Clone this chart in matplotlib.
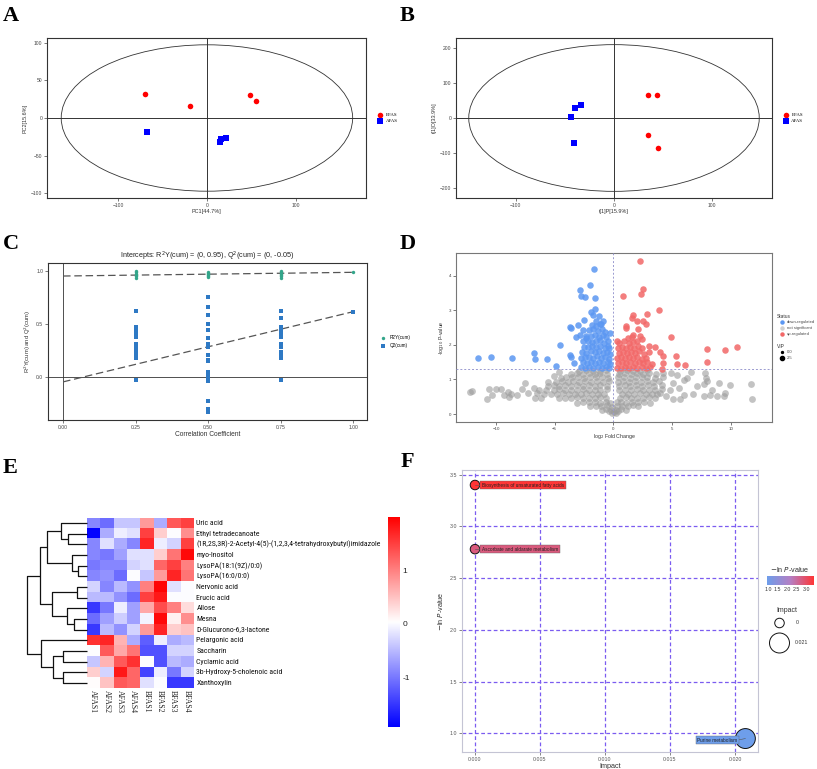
import matplotlib
matplotlib.use('Agg')
import matplotlib.pyplot as plt
import numpy as np
from matplotlib.patches import Ellipse
from matplotlib.colors import LinearSegmentedColormap, Normalize
from matplotlib import font_manager
from matplotlib.lines import Line2D

plt.rcParams['font.family'] = ['Liberation Sans', 'DejaVu Sans']
plt.rcParams['mathtext.fontset'] = 'dejavusans'

# ---------------- DATA ----------------
# Panel A (PCA)
pca_bfas_x = [-70, -19, 49, 55]
pca_bfas_y = [32, 16, 31, 23]
pca_afas_x = [-67, 15, 16, 21]
pca_afas_y = [-18, -32, -28, -26]
pca_ellipse = [164, 97]

# Panel B (OPLS-DA)
opls_bfas_x = [35, 44, 35, 45]
opls_bfas_y = [67, 65, -50, -85]
opls_afas_x = [-40, -34, -44, -41]
opls_afas_y = [30, 36, 4, -72]
opls_ellipse = [148, 210]

# Panel C (permutation test)
r2y_x = [0.25, 0.25, 0.25, 0.25, 0.25, 0.25, 0.5, 0.5, 0.5, 0.5, 0.5, 0.5,
         0.75, 0.75, 0.75, 0.75, 0.75, 0.75, 1.0]
r2y_y = [0.93, 0.95, 0.96, 0.97, 0.99, 1.0, 0.94, 0.95, 0.96, 0.97, 0.98, 0.99,
         0.93, 0.95, 0.96, 0.97, 0.99, 1.0, 0.985]
q2_x = [0.25] * 12 + [0.5] * 19 + [0.75] * 12 + [1.0]
q2_y = [0.617, 0.467, 0.444, 0.40, 0.378, 0.306, 0.284, 0.262, 0.234, 0.216, 0.175, -0.031,
        0.756, 0.653, 0.578, 0.494, 0.44, 0.36, 0.306, 0.278, 0.206, 0.156, 0.15, 0.044,
        0.012, -0.006, -0.028, -0.044, -0.234, -0.31, -0.338,
        0.617, 0.55, 0.467, 0.444, 0.40, 0.378, 0.306, 0.284, 0.234, 0.216, 0.175, -0.031,
        0.613]
r2y_line = [0.95, 0.985]   # value at x=0 and x=1
q2_line = [-0.05, 0.613]

# Panel D (volcano)
down_pts = [(-11.5, 1.62), (-10.4, 1.65), (-8.6, 1.63), (-6.76, 1.78), (-6.65, 1.59),
            (-5.65, 1.58), (-4.57, 1.99), (-4.89, 1.38), (-3.66, 1.72), (-3.64, 1.64),
            (-3.32, 1.47), (-3.66, 2.53), (-3.62, 2.48), (-2.84, 3.59), (-2.78, 3.41),
            (-2.39, 3.38), (-1.96, 3.74), (-1.62, 4.20), (-1.53, 3.37), (-1.53, 3.04),
            (-1.90, 2.96), (-1.76, 2.88), (-2.53, 2.73), (-3.01, 2.57), (-2.56, 2.43),
            (-3.18, 2.23), (-2.84, 2.29), (-2.33, 2.19), (-0.85, 2.70), (-1.08, 2.62),
            (-2.75, 1.35), (-2.4, 1.33), (-2.05, 1.36), (-1.7, 1.34), (-1.35, 1.35), (-1.0, 1.33),
            (-0.65, 1.36), (-0.35, 1.34), (-2.6, 1.5), (-2.25, 1.48), (-1.9, 1.52), (-1.55, 1.49),
            (-1.2, 1.5), (-0.85, 1.47), (-0.5, 1.51), (-0.25, 1.45), (-2.8, 1.62), (-2.45, 1.66),
            (-2.1, 1.64), (-1.75, 1.63), (-1.4, 1.67), (-1.05, 1.62), (-0.7, 1.65), (-0.4, 1.6),
            (-2.65, 1.8), (-2.3, 1.78), (-1.95, 1.81), (-1.6, 1.79), (-1.25, 1.82), (-0.9, 1.77),
            (-0.55, 1.8), (-0.3, 1.75), (-2.5, 1.95), (-2.15, 1.93), (-1.8, 1.97), (-1.45, 1.94),
            (-1.1, 1.96), (-0.75, 1.92), (-0.45, 1.98), (-2.6, 2.1), (-2.2, 2.12), (-1.85, 2.08),
            (-1.5, 2.11), (-1.15, 2.13), (-0.8, 2.07), (-0.5, 2.1), (-2.3, 2.27), (-1.95, 2.25),
            (-1.6, 2.28), (-1.25, 2.24), (-0.9, 2.3), (-0.6, 2.22), (-2.1, 2.42), (-1.7, 2.45),
            (-1.35, 2.4), (-1.0, 2.47), (-0.7, 2.38), (-1.8, 2.58), (-1.45, 2.55), (-1.15, 2.6),
            (-1.5, 2.7), (-1.2, 2.85), (-0.35, 1.9), (-0.3, 2.35)]
up_pts = [(2.27, 4.44), (2.56, 3.63), (2.36, 3.46), (0.85, 3.41), (3.92, 3.01), (2.87, 2.90),
          (1.68, 2.88), (1.56, 2.78), (2.05, 2.69), (2.56, 2.69), (2.81, 2.61), (1.08, 2.55),
          (1.11, 2.50), (2.13, 2.46), (4.89, 2.23), (1.65, 2.29), (2.27, 2.25), (2.47, 2.17),
          (3.58, 1.93), (3.07, 1.98), (3.98, 1.79), (4.23, 1.68), (5.31, 1.69), (7.93, 1.88),
          (9.46, 1.84), (10.54, 1.93), (7.98, 1.50), (4.23, 1.48), (5.43, 1.45), (6.11, 1.42),
          (4.15, 1.30),
          (0.3, 1.34), (0.65, 1.33), (1.0, 1.36), (1.35, 1.34), (1.7, 1.35), (2.05, 1.33),
          (2.4, 1.36), (2.75, 1.34), (3.1, 1.35), (0.4, 1.48), (0.75, 1.5), (1.1, 1.47),
          (1.45, 1.51), (1.8, 1.48), (2.15, 1.5), (2.5, 1.47), (2.85, 1.52), (3.3, 1.46),
          (0.3, 1.62), (0.65, 1.64), (1.0, 1.61), (1.35, 1.65), (1.7, 1.62), (2.05, 1.66),
          (2.4, 1.6), (2.75, 1.63), (0.45, 1.77), (0.8, 1.79), (1.15, 1.76), (1.5, 1.8),
          (1.85, 1.77), (2.2, 1.81), (2.6, 1.75), (3.0, 1.8), (0.35, 1.92), (0.7, 1.94),
          (1.05, 1.9), (1.4, 1.95), (1.75, 1.91), (2.1, 1.96), (2.45, 1.92), (0.5, 2.07),
          (0.9, 2.1), (1.3, 2.06), (1.7, 2.09), (2.0, 2.12), (1.6, 2.22), (1.2, 2.2), (0.3, 2.1)]
ns_pts = [(-12.2, 0.65), (-12.0, 0.68), (-10.8, 0.44), (-10.6, 0.72), (-10.3, 0.54), (-10.0, 0.72),
          (-9.6, 0.72), (-9.3, 0.55), (-9.0, 0.65), (-8.7, 0.58), (-8.9, 0.48), (-7.5, 0.91),
          (-7.8, 0.72), (-7.3, 0.62), (-6.8, 0.75), (-6.7, 0.46), (-6.2, 0.45), (-5.6, 0.94),
          (-5.1, 1.10), (-4.6, 1.22), (-6.5, 0.60), (-8.2, 0.55),
          (11.7, 0.87), (11.8, 0.44), (9.9, 0.85), (9.0, 0.91), (7.76, 1.18), (7.67, 0.88),
          (7.1, 0.80), (6.8, 0.59), (7.67, 0.51), (8.24, 0.56), (8.8, 0.51), (9.4, 0.51),
          (8.4, 0.70), (9.5, 0.6), (5.4, 1.13), (5.1, 0.89), (5.97, 0.99), (3.98, 0.61),
          (5.11, 0.43), (5.7, 0.43), (4.5, 0.51), (4.26, 1.18), (6.6, 1.23), (6.3, 1.05),
          (5.6, 0.75), (4.8, 0.7), (7.9, 1.05), (4.9, 1.2), (6.0, 0.55), (8.0, 0.95),
          (-0.15, 0.03), (0.05, 0.05), (0.2, 0.04), (-0.35, 0.08), (0.4, 0.09),
          (-1.0, 0.13), (-0.6, 0.14), (-0.2, 0.12), (0.25, 0.13), (0.65, 0.15), (1.05, 0.12),
          (-2.0, 0.22), (-1.5, 0.24), (-1.05, 0.23), (-0.55, 0.25), (-0.15, 0.21), (0.3, 0.23),
          (0.75, 0.24), (1.2, 0.22), (1.65, 0.25), (2.1, 0.23),
          (-3.1, 0.33), (-2.6, 0.35), (-2.1, 0.34), (-1.6, 0.36), (-1.1, 0.33), (-0.6, 0.35),
          (-0.25, 0.32), (0.3, 0.34), (0.65, 0.36), (1.1, 0.33), (1.6, 0.35), (2.1, 0.34),
          (2.6, 0.36), (3.1, 0.33),
          (-4.6, 0.45), (-4.1, 0.47), (-3.6, 0.46), (-3.1, 0.48), (-2.6, 0.45), (-2.1, 0.47),
          (-1.6, 0.46), (-1.1, 0.48), (-0.6, 0.45), (0.6, 0.46), (1.05, 0.48), (1.5, 0.45),
          (2.0, 0.47), (2.5, 0.46), (3.0, 0.48), (3.5, 0.45),
          (-5.9, 0.57), (-5.3, 0.59), (-4.8, 0.58), (-4.3, 0.6), (-3.8, 0.57), (-3.3, 0.59),
          (-2.8, 0.58), (-2.3, 0.6), (-1.8, 0.57), (-1.3, 0.59), (-0.8, 0.58), (0.75, 0.57),
          (1.25, 0.59), (1.75, 0.58), (2.25, 0.6), (2.75, 0.57), (3.25, 0.59), (3.75, 0.58),
          (-6.3, 0.69), (-5.7, 0.71), (-5.1, 0.7), (-4.6, 0.72), (-4.1, 0.69), (-3.6, 0.71),
          (-3.1, 0.7), (-2.6, 0.72), (-2.1, 0.69), (-1.6, 0.71), (-1.1, 0.7), (-0.55, 0.72),
          (0.5, 0.69), (1.0, 0.71), (1.5, 0.7), (2.0, 0.72), (2.5, 0.69), (3.0, 0.71),
          (3.5, 0.7), (4.1, 0.72),
          (-5.6, 0.81), (-5.1, 0.83), (-4.6, 0.82), (-4.1, 0.84), (-3.6, 0.81), (-3.1, 0.83),
          (-2.6, 0.82), (-2.1, 0.84), (-1.6, 0.81), (-1.1, 0.83), (-0.55, 0.82), (0.45, 0.81),
          (0.95, 0.83), (1.45, 0.82), (1.95, 0.84), (2.45, 0.81), (2.95, 0.83), (3.45, 0.82),
          (4.1, 0.84),
          (-4.9, 0.93), (-4.4, 0.95), (-3.9, 0.94), (-3.4, 0.96), (-2.9, 0.93), (-2.4, 0.95),
          (-1.9, 0.94), (-1.4, 0.96), (-0.9, 0.93), (-0.4, 0.95), (0.4, 0.94), (0.85, 0.96),
          (1.35, 0.93), (1.85, 0.95), (2.35, 0.94), (2.85, 0.96), (3.35, 0.93), (3.9, 0.95),
          (-4.5, 1.05), (-4.0, 1.07), (-3.5, 1.06), (-3.0, 1.08), (-2.5, 1.05), (-2.0, 1.07),
          (-1.5, 1.06), (-1.0, 1.08), (-0.45, 1.05), (0.4, 1.06), (0.9, 1.08), (1.4, 1.05),
          (1.9, 1.07), (2.4, 1.06), (2.9, 1.08), (3.5, 1.05), (4.2, 1.07),
          (-3.6, 1.16), (-3.1, 1.18), (-2.6, 1.17), (-2.1, 1.19), (-1.6, 1.16), (-1.1, 1.18),
          (-0.55, 1.17), (0.5, 1.16), (1.0, 1.18), (1.5, 1.17), (2.0, 1.19), (2.5, 1.16),
          (3.0, 1.18), (3.6, 1.17),
          (-2.9, 1.25), (-2.3, 1.27), (-1.7, 1.26), (-1.15, 1.25), (-0.6, 1.27), (0.6, 1.25),
          (1.15, 1.27), (1.7, 1.26), (2.3, 1.25), (2.9, 1.27)]
volcano_p_cut = 1.3

# Panel E (heatmap)
metabolites = ['Uric acid', 'Ethyl tetradecanoate',
               '(1R,2S,3R)-2-Acetyl-4(5)-(1,2,3,4-tetrahydroxybutyl)imidazole',
               'myo-Inositol', 'LysoPA(18:1(9Z)/0:0)', 'LysoPA(16:0/0:0)', 'Nervonic acid',
               'Erucic acid', 'Allose', 'Mesna', 'D-Glucurono-6,3-lactone', 'Pelargonic acid',
               'Saccharin', 'Cyclamic acid', '3b-Hydroxy-5-cholenoic acid', 'Xanthoxylin']
samples = ['AFAS1', 'AFAS2', 'AFAS3', 'AFAS4', 'BFAS1', 'BFAS2', 'BFAS3', 'BFAS4']
zscores = [
    [-0.9, -1.1, -0.4, -0.4, 0.8, -0.6, 1.3, 1.5],
    [-1.9, -0.6, -0.1, -0.2, 1.5, 0.4, 0.0, 0.9],
    [-0.9, -0.2, -0.6, -0.9, 1.7, -0.1, -0.3, 1.5],
    [-0.9, -1.0, -0.7, -0.2, -0.2, 0.4, 1.1, 1.9],
    [-1.0, -0.9, -0.9, -0.3, -0.2, 1.2, 1.5, 1.0],
    [-0.9, -0.8, -1.1, 0.0, -0.4, 0.8, 1.7, 1.1],
    [-0.3, -0.9, -0.5, -0.8, 1.0, 1.95, -0.2, 0.0],
    [-0.5, -0.5, -0.8, -1.1, 1.5, 1.8, 0.0, 0.0],
    [-1.5, -1.0, -0.1, -0.7, 0.7, 1.4, 1.0, 0.3],
    [-1.1, -0.7, -0.35, -0.7, -0.05, 1.9, 0.15, 0.9],
    [-1.5, -0.5, -0.8, -0.3, 0.8, 1.7, 0.4, 0.5],
    [1.6, 1.7, 0.6, -0.6, -1.2, -0.1, -0.6, -0.5],
    [0.0, 1.3, 0.7, 1.1, -1.3, -1.3, -0.3, -0.3],
    [-0.4, 0.6, 1.3, 1.6, 0.0, -1.3, -0.5, -0.6],
    [0.4, -0.3, 1.8, 1.2, -1.4, -0.1, -1.0, -0.3],
    [0.05, 0.5, 1.3, 1.2, -0.2, 0.0, -1.5, -1.5],
]
heat_range = [-1.93, 1.99]
# row dendrogram merges: (child a, child b, height); ids >= 16 are earlier merges
row_merges = [(1, 2, 19.0), (0, 16, 25.7), (4, 5, 8.3), (3, 18, 14.3), (17, 19, 40.0),
              (6, 7, 10.0), (9, 10, 12.3), (8, 22, 20.0), (21, 23, 34.3), (20, 24, 46.7),
              (12, 13, 23.3), (14, 15, 23.3), (26, 27, 33.3), (11, 28, 45.7), (25, 29, 59.3)]

# Panel F (pathway bubble)
pathways = ['Biosynthesis of unsaturated fatty acids', 'Ascorbate and aldarate metabolism',
            'Purine metabolism']
path_impact = [0.0, 0.0, 0.0208]
path_lnp = [3.40, 2.78, 0.95]

# ---------------- LAYOUT HELPERS ----------------
W, H = 817, 769
fig = plt.figure(figsize=(W / 100, H / 100), dpi=100)


def ax_px(l, t, r, b, **kw):
    return fig.add_axes([l / W, 1 - b / H, (r - l) / W, (b - t) / H], **kw)


def fx(x):
    return x / W


def fy(y):
    return 1 - y / H


def has_font(name):
    try:
        font_manager.findfont(font_manager.FontProperties(family=name), fallback_to_default=False)
        return True
    except Exception:
        return False


SERIF = 'Liberation Serif' if has_font('Liberation Serif') else 'DejaVu Serif'
NARROW = 'Liberation Sans'
for cand in ['Liberation Sans Narrow', 'Roboto Condensed', 'Open Sans Condensed',
             'Noto Sans Condensed', 'DejaVu Sans Condensed']:
    if has_font(cand):
        NARROW = cand
        break


def gg_style(ax, edge='#333333', fs=3.6):
    for s in ax.spines.values():
        s.set_color(edge)
        s.set_linewidth(0.8)
    ax.tick_params(labelsize=fs, length=2, width=0.5, colors='#444444', pad=1.5)


for lab, x, y in [('A', 3, 21), ('B', 400, 21), ('C', 3, 249), ('D', 400, 249),
                  ('E', 3, 473), ('F', 401, 467)]:
    fig.text(fx(x), fy(y), lab, fontsize=16, fontweight='bold', family=SERIF, va='baseline')

# ---------------- PANEL A ----------------
axA = ax_px(47, 38, 366, 198)
axA.add_patch(Ellipse((0, 0), 2 * pca_ellipse[0], 2 * pca_ellipse[1], fill=False,
                      ec='#333333', lw=0.6))
axA.axhline(0, color='#333333', lw=0.7)
axA.axvline(0, color='#333333', lw=0.7)
axA.scatter(pca_bfas_x, pca_bfas_y, s=16, c='#FF0000', marker='o', lw=0, zorder=3, label='BFAS')
axA.scatter(pca_afas_x, pca_afas_y, s=16, c='#0000FF', marker='s', lw=0, zorder=3, label='AFAS')
axA.set_xlim(-180, 179)
axA.set_ylim(-106, 106)
axA.set_xticks([-100, 0, 100])
axA.set_yticks([-100, -50, 0, 50, 100])
gg_style(axA)
axA.set_xlabel('PC1[44.7%]', fontsize=4, color='#333333', labelpad=1)
axA.set_ylabel('PC2[15.6%]', fontsize=4, color='#333333', labelpad=2)
axA.legend(loc='center left', bbox_to_anchor=(1.02, 0.5), frameon=False,
           prop={'family': SERIF, 'size': 3.5}, handletextpad=0.2, markerscale=1.0,
           borderpad=0, labelspacing=0.4)

# ---------------- PANEL B ----------------
axB = ax_px(456, 38, 772, 198)
axB.add_patch(Ellipse((0, 0), 2 * opls_ellipse[0], 2 * opls_ellipse[1], fill=False,
                      ec='#333333', lw=0.6))
axB.axhline(0, color='#333333', lw=0.7)
axB.axvline(0, color='#333333', lw=0.7)
axB.scatter(opls_bfas_x, opls_bfas_y, s=16, c='#FF0000', marker='o', lw=0, zorder=3, label='BFAS')
axB.scatter(opls_afas_x, opls_afas_y, s=16, c='#0000FF', marker='s', lw=0, zorder=3, label='AFAS')
axB.set_xlim(-161, 161)
axB.set_ylim(-229, 229)
axB.set_xticks([-100, 0, 100])
axB.set_yticks([-200, -100, 0, 100, 200])
gg_style(axB)
axB.set_xlabel('t[1]P[15.9%]', fontsize=4, color='#333333', labelpad=1)
axB.set_ylabel('t[1]O[33.9%]', fontsize=4, color='#333333', labelpad=2)
axB.legend(loc='center left', bbox_to_anchor=(1.02, 0.5), frameon=False,
           prop={'family': SERIF, 'size': 3.5}, handletextpad=0.2,
           borderpad=0, labelspacing=0.4)

# ---------------- PANEL C ----------------
axC = ax_px(48, 263, 367, 420)
axC.axhline(0, color='#333333', lw=0.6)
axC.axvline(0, color='#333333', lw=0.6)
axC.plot([0, 1], r2y_line, ls=(0, (6, 3)), color='#555555', lw=0.9, zorder=2)
axC.plot([0, 1], q2_line, ls=(0, (6, 3)), color='#555555', lw=0.9, zorder=2)
axC.scatter(r2y_x, r2y_y, s=6, c='#33A58A', marker='o', lw=0, zorder=3, label='R2Y(cum)')
axC.scatter(q2_x, q2_y, s=6, c='#2E79C4', marker='s', lw=0, zorder=3, label='Q2(cum)')
axC.set_xlim(-0.052, 1.048)
axC.set_ylim(-0.41, 1.073)
axC.set_xticks([0, 0.25, 0.5, 0.75, 1.0])
axC.set_xticklabels(['0.00', '0.25', '0.50', '0.75', '1.00'])
axC.set_yticks([0, 0.5, 1.0])
axC.set_yticklabels(['0.0', '0.5', '1.0'])
gg_style(axC)
axC.set_title('Intercepts: R$^2$Y(cum) = (0, 0.95), Q$^2$(cum) = (0, -0.05)', fontsize=5.2,
              color='#222222', pad=3)
axC.set_xlabel('Correlation Coefficient', fontsize=4.8, color='#333333', labelpad=0.5)
axC.set_ylabel('R$^2$Y(cum) and Q$^2$(cum)', fontsize=4.2, color='#333333', labelpad=2)
axC.legend(loc='center left', bbox_to_anchor=(1.03, 0.5), frameon=False,
           prop={'size': 3.3}, handletextpad=0.3, borderpad=0, labelspacing=0.6,
           markerscale=1.0)

# ---------------- PANEL D ----------------
axD = ax_px(456, 253, 772, 422)
nsx, nsy = zip(*ns_pts)
dx, dy = zip(*down_pts)
ux, uy = zip(*up_pts)
axD.scatter(nsx, nsy, s=24, c='#9C9C9C', alpha=0.6, lw=0, zorder=2)
axD.scatter(dx, dy, s=22, c='#5B97F2', alpha=0.85, lw=0, zorder=3)
axD.scatter(ux, uy, s=22, c='#F26868', alpha=0.85, lw=0, zorder=3)
axD.axhline(volcano_p_cut, color='#9A9AD0', lw=0.7, ls=(0, (2, 2)), zorder=4)
axD.axvline(0, color='#9A9AD0', lw=0.7, ls=(0, (2, 2)), zorder=4)
axD.set_xlim(-13.4, 13.5)
axD.set_ylim(-0.23, 4.66)
axD.set_xticks([-10, -5, 0, 5, 10])
axD.set_yticks([0, 1, 2, 3, 4])
gg_style(axD, edge='#777777', fs=3.2)
axD.set_xlabel('log$_2$ Fold Change', fontsize=3.8, color='#333333', labelpad=1)
axD.set_ylabel('-log$_{10}$ P-value', fontsize=3.8, color='#333333', labelpad=2)
fig.text(fx(777), fy(317), 'Status', fontsize=3.5, color='#333333', va='center')
for i, (lab, col) in enumerate([('down-regulated', '#5B97F2'), ('not significant', '#D0D0D0'),
                                ('up-regulated', '#F26868')]):
    yy = 322 + 6 * i
    fig.lines.append(Line2D([fx(782)], [fy(yy)], marker='o', ms=2.2, color=col, lw=0,
                            transform=fig.transFigure))
    fig.text(fx(787), fy(yy), lab, fontsize=3.0, color='#444444', va='center')
fig.text(fx(777), fy(346), 'VIP', fontsize=3.5, color='#333333', va='center')
for i, (lab, ms) in enumerate([('0.0', 1.4), ('2.5', 3.0)]):
    yy = 352 + 6 * i
    fig.lines.append(Line2D([fx(782)], [fy(yy)], marker='o', ms=ms, color='black', lw=0,
                            transform=fig.transFigure))
    fig.text(fx(787), fy(yy), lab, fontsize=3.0, color='#444444', va='center')

# ---------------- PANEL E ----------------
heat_cmap = LinearSegmentedColormap.from_list('bwr_ph', ['#0000FF', '#FFFFFF', '#FF0000'])
axE = ax_px(86.5, 517.7, 193, 688.3)
axE.imshow(np.array(zscores), cmap=heat_cmap, vmin=heat_range[0], vmax=heat_range[1],
           aspect='auto', interpolation='nearest')
axE.set_axis_off()
row_h = (688.3 - 517.7) / len(metabolites)
row_fs = 6.0
renderer = fig.canvas.get_renderer()
probe = fig.text(0, 0, max(metabolites, key=len), fontsize=row_fs, family=NARROW)
wpx = probe.get_window_extent(renderer=renderer).width
probe.remove()
if wpx > 184:
    row_fs = row_fs * 184 / wpx
for i, name in enumerate(metabolites):
    fig.text(fx(196.5), fy(517.7 + row_h * (i + 0.5)), name, fontsize=row_fs, family=NARROW,
             va='center', ha='left', color='#111111')
col_w = (193 - 86.5) / len(samples)
for j, s in enumerate(samples):
    fig.text(fx(86.5 + col_w * (j + 0.5)), fy(690), s, fontsize=5.6, family=SERIF,
             rotation=270, va='top', ha='center', color='#222222')

axDen = ax_px(26.5, 517.7, 86.5, 688.3)
pos = {i: (float(i), 0.0) for i in range(len(metabolites))}
for k, (a, b, h) in enumerate(row_merges):
    ya, ha_ = pos[a]
    yb, hb = pos[b]
    axDen.plot([ha_, h, h, hb], [ya, ya, yb, yb], color='#111111', lw=0.9,
               solid_capstyle='butt', clip_on=False)
    pos[len(metabolites) + k] = ((ya + yb) / 2, h)
axDen.set_xlim(60.0, 0)
axDen.set_ylim(len(metabolites) - 0.5, -0.5)
axDen.set_axis_off()

axEc = ax_px(388, 517, 400, 727)
grad = np.linspace(heat_range[1], heat_range[0], 256).reshape(-1, 1)
axEc.imshow(grad, cmap=heat_cmap, vmin=heat_range[0], vmax=heat_range[1], aspect='auto',
            extent=[0, 1, heat_range[0], heat_range[1]])
axEc.set_xticks([])
axEc.yaxis.tick_right()
axEc.set_yticks([-1, 0, 1])
axEc.set_yticklabels(['-1', '0', '1'])
axEc.tick_params(axis='y', length=0, labelsize=6, pad=2, colors='#222222')
for s in axEc.spines.values():
    s.set_visible(False)

# ---------------- PANEL F ----------------
axF = ax_px(462, 470, 758, 752)
f_cmap = LinearSegmentedColormap.from_list('pv', ['#6E9EEB', '#B57FC4', '#FF3535'])
f_norm = Normalize(vmin=min(path_lnp), vmax=max(path_lnp))


def bubble_size(imp):
    return 47 + imp / 0.021 * 160


axF.set_axisbelow(True)
axF.grid(True, ls=(0, (3, 2)), color='#7B5CF0', lw=0.9)
cols = [f_cmap(f_norm(v)) for v in path_lnp]
axF.scatter(path_impact, path_lnp, s=[bubble_size(v) for v in path_impact], c=cols,
            edgecolors='#111111', linewidths=0.7, zorder=3)
label_pos = [(0.00055, 'left'), (0.00055, 'left'), (0.0202, 'right')]
label_dy = [0.0, 0.0, -0.015]
for name, x, y, c, (lx, ha), dyy in zip(pathways, path_impact, path_lnp, cols, label_pos, label_dy):
    axF.plot([x, lx], [y, y + dyy], color='#555555', lw=0.4, zorder=4)
    axF.text(lx, y + dyy, name, fontsize=3.4, ha=ha, va='center', color='#222222', zorder=5,
             bbox=dict(boxstyle='square,pad=0.35', fc=c, ec='#666666', lw=0.3))
axF.set_xlim(-0.001, 0.02177)
axF.set_ylim(0.82, 3.545)
axF.set_xticks([0, 0.005, 0.010, 0.015, 0.020])
axF.set_xticklabels(['0.000', '0.005', '0.010', '0.015', '0.020'])
axF.set_yticks([1.0, 1.5, 2.0, 2.5, 3.0, 3.5])
for s in axF.spines.values():
    s.set_color('#C4C4D4')
    s.set_linewidth(0.8)
axF.tick_params(labelsize=3.8, length=2, width=0.5, colors='#555555', pad=1.5)
axF.set_xlabel('Impact', fontsize=5.2, color='#333333', labelpad=1)
axF.set_ylabel('$-$ln $\\it{P}$-value', fontsize=5.2, color='#333333', labelpad=3)

fig.text(fx(790), fy(569), '$-$ln $\\it{P}$-value', fontsize=5.2, ha='center', va='center',
         color='#333333')
axFc = ax_px(767, 576, 814, 585)
gradF = np.linspace(min(path_lnp), max(path_lnp), 256).reshape(1, -1)
axFc.imshow(gradF, cmap=f_cmap, aspect='auto',
            extent=[min(path_lnp), max(path_lnp), 0, 1])
axFc.set_yticks([])
axFc.set_xticks([1.0, 1.5, 2.0, 2.5, 3.0])
axFc.set_xticklabels(['1.0', '1.5', '2.0', '2.5', '3.0'])
axFc.tick_params(axis='x', length=0, labelsize=3.8, pad=1.5, colors='#333333')
for s in axFc.spines.values():
    s.set_visible(False)

fig.text(fx(787), fy(610), 'Impact', fontsize=5.0, ha='center', va='center', color='#333333')
axFl = ax_px(765, 612, 817, 660)
axFl.set_xlim(0, 52)
axFl.set_ylim(48, 0)
axFl.set_axis_off()
axFl.scatter([14.5, 14.5], [11, 31], s=[bubble_size(0.0), bubble_size(0.021)], facecolors='white',
             edgecolors='#111111', linewidths=0.7, clip_on=False)
axFl.text(30.5, 11, '0', fontsize=3.8, va='center', color='#333333')
axFl.text(30, 31, '0.021', fontsize=3.8, va='center', color='#333333')

fig.savefig('out.png', dpi=100, facecolor='white')
